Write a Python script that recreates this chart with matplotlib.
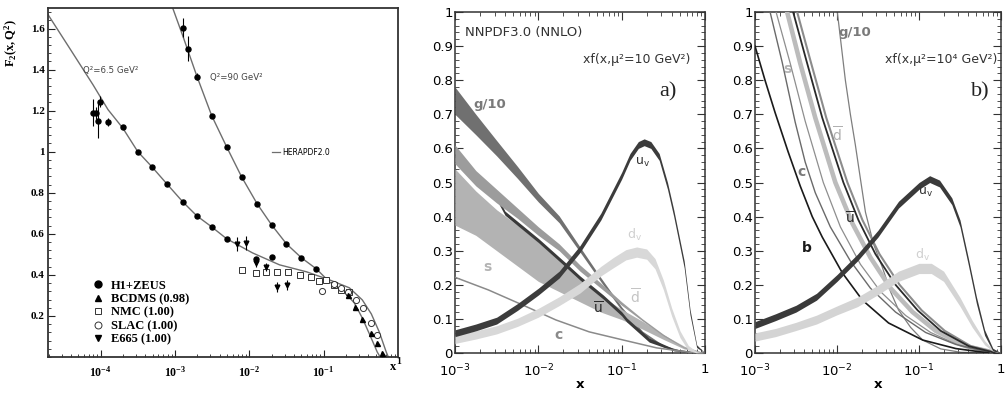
import numpy as np
import matplotlib
matplotlib.use('Agg')
import matplotlib.pyplot as plt
from matplotlib.ticker import MultipleLocator, LogLocator, NullFormatter
from matplotlib.lines import Line2D

plt.rcParams['font.family'] = ['DejaVu Sans']
plt.rcParams['mathtext.fontset'] = 'custom'
plt.rcParams['mathtext.rm'] = 'Liberation Serif:bold'
plt.rcParams['mathtext.bf'] = 'Liberation Serif:bold'
plt.rcParams['mathtext.it'] = 'Liberation Serif:bold:italic'
plt.rcParams['mathtext.sf'] = 'DejaVu Sans'

# ---------------- Panel 1 : F2(x,Q2) ----------------
q65_curve_logx = [-4.707, -4.4, -4.1, -3.9, -3.701, -3.499, -3.311, -3.110, -2.895, -2.707, -2.506,
                  -2.305, -1.956, -1.594, -1.231, -0.923, -0.654, -0.480, -0.359, -0.252, -0.158, -0.13]
q65_curve_f2 = [1.668, 1.495, 1.325, 1.205, 1.115, 1.0, 0.927, 0.844, 0.756, 0.688, 0.634,
                0.576, 0.507, 0.449, 0.415, 0.376, 0.337, 0.278, 0.21, 0.122, 0.024, 0.0]
q90_curve_logx = [-3.030, -2.895, -2.707, -2.506, -2.305, -2.104, -1.894, -1.701, -1.500, -1.298,
                  -1.097, -0.923, -0.721, -0.587, -0.480, -0.372, -0.279, -0.24]
q90_curve_f2 = [1.70, 1.565, 1.37, 1.176, 1.024, 0.878, 0.746, 0.644, 0.551, 0.483,
                0.429, 0.366, 0.317, 0.263, 0.19, 0.102, 0.024, 0.0]

h1_logx = [-4.103, -4.063, -4.036, -4.009, -3.902, -3.701, -3.499, -3.311, -3.110, -2.895, -2.707,
           -2.506, -2.305, -1.907, -1.701,
           -2.895, -2.828, -2.707, -2.506, -2.305, -2.104, -1.894, -1.701, -1.500, -1.298, -1.097]
h1_f2 = [1.19, 1.19, 1.151, 1.244, 1.146, 1.122, 1.0, 0.927, 0.844, 0.756, 0.688,
         0.634, 0.576, 0.478, 0.488,
         1.605, 1.502, 1.366, 1.176, 1.024, 0.878, 0.746, 0.644, 0.551, 0.483, 0.429]
h1_err = [0.065, 0.03, 0.085, 0.025, 0.02, 0.01, 0.01, 0.01, 0.01, 0.01, 0.01,
          0.01, 0.01, 0.01, 0.01,
          0.045, 0.06, 0.015, 0.01, 0.01, 0.01, 0.01, 0.01, 0.01, 0.01, 0.01]
e665_logx = [-2.171, -2.050, -1.916, -1.773, -1.634, -1.487]
e665_f2 = [0.551, 0.556, 0.46, 0.44, 0.34, 0.351]
e665_err = [0.035, 0.035, 0.02, 0.02, 0.025, 0.025]
nmc_logx = [-2.104, -1.907, -1.773, -1.621, -1.473, -1.312, -1.164, -1.057, -0.963, -0.856, -0.762, -0.654]
nmc_f2 = [0.424, 0.41, 0.415, 0.415, 0.415, 0.40, 0.39, 0.371, 0.376, 0.351, 0.327, 0.317]
slac_logx = [-1.017, -0.856, -0.762, -0.668, -0.560, -0.466, -0.359, -0.279]
slac_f2 = [0.322, 0.356, 0.337, 0.317, 0.278, 0.239, 0.166, 0.107]
bcdms_logx = [-0.668, -0.574, -0.480, -0.359, -0.279, -0.212]
bcdms_f2 = [0.302, 0.244, 0.185, 0.117, 0.068, 0.02]

p1_yticks = [0.2, 0.4, 0.6, 0.8, 1.0, 1.2, 1.4, 1.6]
p1_yticklabels = ['0.2', '0.4', '0.6', '0.8', '1', '1.2', '1.4', '1.6']
p1_xticks = [1e-4, 1e-3, 1e-2, 1e-1]
p1_xticklabels = [r'$\mathrm{10^{-4}}$', r'$\mathrm{10^{-3}}$', r'$\mathrm{10^{-2}}$', r'$\mathrm{10^{-1}}$']
legend_labels = ['H1+ZEUS', 'BCDMS (0.98)', 'NMC (1.00)', 'SLAC (1.00)', 'E665 (1.00)']

# ---------------- Panel 2 : mu^2 = 10 GeV^2 ----------------
p2_grid = [-3, -2.75, -2.5, -2.25, -2, -1.75, -1.5, -1.25, -1, -0.75, -0.5, -0.25, 0]
p2_g10_lo = [0.70, 0.64, 0.578, 0.512, 0.443, 0.382, 0.296, 0.209, 0.125, 0.056, 0.018, 0.002, 0]
p2_g10_hi = [0.78, 0.70, 0.623, 0.547, 0.468, 0.402, 0.311, 0.221, 0.135, 0.064, 0.023, 0.005, 0]
p2_dbar_lo = [0.555, 0.49, 0.44, 0.395, 0.345, 0.30, 0.24, 0.19, 0.14, 0.094, 0.05, 0.015, 0]
p2_dbar_hi = [0.61, 0.535, 0.48, 0.425, 0.37, 0.32, 0.258, 0.205, 0.15, 0.10, 0.055, 0.017, 0]
p2_s_lo = [0.375, 0.345, 0.30, 0.255, 0.21, 0.18, 0.15, 0.12, 0.098, 0.07, 0.04, 0.012, 0]
p2_s_hi = [0.54, 0.475, 0.42, 0.375, 0.325, 0.272, 0.218, 0.168, 0.128, 0.093, 0.054, 0.02, 0]
p2_ubar_logx = [-3, -2.75, -2.5, -2.4, -2.0, -1.67, -1.5, -1.22, -1.0, -0.94, -0.67, -0.37, 0]
p2_ubar_mid = [0.58, 0.51, 0.455, 0.41, 0.33, 0.258, 0.22, 0.164, 0.115, 0.097, 0.038, 0.009, 0]
p2_ubar_hw = [0.006] * 11 + [0.003, 0]
p2_c_logx = [-3, -2.6, -2.19, -1.79, -1.39, -0.98, -0.58, -0.18, 0]
p2_c = [0.222, 0.185, 0.141, 0.097, 0.062, 0.038, 0.015, 0.002, 0]
p2_uv_logx = [-3, -2.75, -2.5, -2.25, -2, -1.75, -1.5, -1.25, -1, -0.9, -0.8, -0.73, -0.65, -0.55,
              -0.45, -0.375, -0.25, -0.18, -0.1, 0]
p2_uv_mid = [0.058, 0.075, 0.095, 0.135, 0.18, 0.23, 0.305, 0.40, 0.52, 0.575, 0.61, 0.618, 0.61, 0.575,
             0.49, 0.41, 0.26, 0.12, 0.02, 0]
p2_uv_hw = [0.01] * 17 + [0.008, 0.004, 0]
p2_dv_logx = [-3, -2.75, -2.5, -2.25, -2, -1.75, -1.5, -1.25, -1.1, -0.95, -0.82, -0.7, -0.6, -0.5,
              -0.4, -0.3, -0.2, -0.1, 0]
p2_dv_mid = [0.04, 0.053, 0.068, 0.09, 0.118, 0.152, 0.19, 0.24, 0.265, 0.288, 0.296, 0.29, 0.262, 0.20,
             0.12, 0.055, 0.015, 0.002, 0]
p2_dv_hw = [0.012, 0.012, 0.012, 0.012, 0.013, 0.013, 0.014, 0.014, 0.015, 0.015, 0.015, 0.015, 0.015,
            0.014, 0.012, 0.01, 0.007, 0.002, 0]

# ---------------- Panel 3 : mu^2 = 10^4 GeV^2 ----------------
p3_b_logx = [-3.0, -2.878, -2.755, -2.596, -2.449, -2.302, -2.18, -1.935, -1.69, -1.371, -0.955, -0.551, -0.147]
p3_b = [0.90, 0.80, 0.705, 0.59, 0.49, 0.40, 0.34, 0.235, 0.155, 0.088, 0.038, 0.013, 0.0]
p3_c_logx = [-2.816, -2.669, -2.51, -2.388, -2.265, -2.082, -1.837, -1.592, -1.286, -0.918, -0.551, -0.184, 0]
p3_c = [1.0, 0.853, 0.677, 0.56, 0.47, 0.37, 0.27, 0.19, 0.12, 0.06, 0.025, 0.005, 0]
p3_grey_logx = [-2.743, -2.571, -2.388, -2.167, -1.959, -1.714, -1.469, -1.163, -0.857, -0.49, -0.123]
p3_grey = [1.0, 0.85, 0.68, 0.5, 0.37, 0.26, 0.18, 0.11, 0.06, 0.02, 0.0]
p3_s_logx = [-2.608, -2.449, -2.265, -2.02, -1.812, -1.592, -1.347, -1.078, -0.796, -0.429, -0.061]
p3_s = [1.0, 0.85, 0.69, 0.5, 0.38, 0.28, 0.19, 0.12, 0.065, 0.02, 0.0]
p3_ubar_logx = [-2.535, -2.376, -2.18, -1.922, -1.739, -1.531, -1.286, -1.016, -0.735, -0.392, -0.061]
p3_ubar = [1.0, 0.86, 0.69, 0.5, 0.39, 0.29, 0.2, 0.125, 0.065, 0.02, 0.0]
p3_dbar_logx = [-2.486, -2.327, -2.131, -1.873, -1.69, -1.482, -1.237, -0.967, -0.686, -0.367, -0.037]
p3_dbar = [1.0, 0.86, 0.69, 0.5, 0.39, 0.29, 0.2, 0.125, 0.065, 0.02, 0.0]
p3_g10_logx = [-1.996, -1.947, -1.898, -1.837, -1.776, -1.714, -1.653, -1.555, -1.445, -1.347, -1.249,
               -1.102, -0.955, -0.735, -0.49, 0]
p3_g10 = [1.0, 0.9, 0.8, 0.7, 0.61, 0.51, 0.413, 0.32, 0.25, 0.18, 0.126, 0.075, 0.038, 0.012, 0.002, 0]
p3_uv_logx = [-3, -2.75, -2.5, -2.25, -2, -1.75, -1.5, -1.25, -1, -0.87, -0.75, -0.6, -0.5, -0.4, -0.3,
              -0.2, -0.1, 0]
p3_uv_mid = [0.082, 0.105, 0.13, 0.165, 0.22, 0.28, 0.35, 0.435, 0.49, 0.51, 0.497, 0.445, 0.38, 0.27,
             0.155, 0.06, 0.01, 0]
p3_uv_hw = [0.01] * 15 + [0.008, 0.004, 0]
p3_dv_logx = [-3, -2.75, -2.5, -2.25, -2, -1.75, -1.5, -1.25, -1, -0.85, -0.7, -0.5, -0.35, -0.2, -0.1, 0]
p3_dv_mid = [0.047, 0.06, 0.078, 0.098, 0.125, 0.15, 0.185, 0.225, 0.248, 0.248, 0.225, 0.15, 0.085,
             0.03, 0.008, 0]
p3_dv_hw = [0.012, 0.012, 0.012, 0.013, 0.013, 0.014, 0.014, 0.015, 0.015, 0.015, 0.015, 0.013, 0.01,
            0.006, 0.003, 0]

pdf_yticks = [0, 0.1, 0.2, 0.3, 0.4, 0.5, 0.6, 0.7, 0.8, 0.9, 1.0]
pdf_yticklabels = ['0', '0.1', '0.2', '0.3', '0.4', '0.5', '0.6', '0.7', '0.8', '0.9', '1']
pdf_xticks = [1e-3, 1e-2, 1e-1, 1]
pdf_xticklabels = [r'$\mathsf{10^{-3}}$', r'$\mathsf{10^{-2}}$', r'$\mathsf{10^{-1}}$', r'$\mathsf{1}$']


def X(lx):
    return 10 ** np.asarray(lx, dtype=float)


fig = plt.figure(figsize=(10.05, 3.93), dpi=100)
W, H = 1005.0, 393.0
ax1 = fig.add_axes([48 / W, 1 - 357 / H, 350 / W, 349 / H])
ax2 = fig.add_axes([455 / W, 1 - 353 / H, 250 / W, 341 / H])
ax3 = fig.add_axes([755 / W, 1 - 353 / H, 246 / W, 341 / H])

serif_b = dict(family='Liberation Serif', weight='bold')

# ---- panel 1 ----
ax1.set_xscale('log')
ax1.set_xlim(10 ** -4.707, 1.0)
ax1.set_ylim(0, 1.7)
curve_col = '#6e6e6e'
ax1.plot(X(q65_curve_logx), q65_curve_f2, color=curve_col, lw=1.0, zorder=2)
ax1.plot(X(q90_curve_logx), q90_curve_f2, color=curve_col, lw=1.0, zorder=2)
ax1.errorbar(X(h1_logx), h1_f2, yerr=h1_err, fmt='o', ms=3.6, color='black', elinewidth=0.8,
             capsize=0, zorder=4)
ax1.errorbar(X(e665_logx), e665_f2, yerr=e665_err, fmt='v', ms=3.4, color='black', elinewidth=0.8,
             capsize=0, zorder=4)
ax1.plot(X(nmc_logx), nmc_f2, 's', ms=4.2, mfc='white', mec='#333333', mew=0.7, zorder=3)
ax1.plot(X(slac_logx), slac_f2, 'o', ms=4.4, mfc='white', mec='#333333', mew=0.7, zorder=3)
ax1.plot(X(bcdms_logx), bcdms_f2, '^', ms=3.6, color='black', zorder=4)

ax1.set_xticks(p1_xticks)
ax1.set_xticklabels(p1_xticklabels, fontsize=8.5)
ax1.xaxis.set_minor_locator(LogLocator(base=10, subs=np.arange(2, 10) * 1.0, numticks=30))
ax1.xaxis.set_minor_formatter(NullFormatter())
ax1.set_yticks(p1_yticks)
ax1.set_yticklabels(p1_yticklabels, fontsize=8, **serif_b)
ax1.yaxis.set_minor_locator(MultipleLocator(0.04))
ax1.tick_params(which='both', direction='in', top=False, right=False, color='#222222')
ax1.tick_params(axis='x', which='major', length=5, width=0.8, pad=6)
ax1.tick_params(axis='y', which='major', length=5, width=0.8, pad=2.5)
ax1.tick_params(which='minor', length=2.5, width=0.6)
for sp in ax1.spines.values():
    sp.set_linewidth(1.3)
    sp.set_color('#333333')
ax1.text(-0.103, 0.90, r'$\mathrm{F_2(x,Q^2)}$', transform=ax1.transAxes, rotation=90,
         ha='center', va='center', fontsize=9)
ax1.text(0.986, -0.028, 'x', transform=ax1.transAxes, ha='center', va='center', fontsize=9, **serif_b)
ax1.text(1.002, -0.012, '1', transform=ax1.transAxes, ha='center', va='center', fontsize=7, **serif_b)
ax1.text(0.10, 0.822, 'Q²=6.5 GeV²', transform=ax1.transAxes, ha='left', va='center', fontsize=6.2,
         color='#444444')
ax1.text(0.463, 0.80, 'Q²=90 GeV²', transform=ax1.transAxes, ha='left', va='center', fontsize=6.2,
         color='#444444')

handles = [Line2D([], [], ls='none', marker='o', ms=5, color='black'),
           Line2D([], [], ls='none', marker='^', ms=5, color='black'),
           Line2D([], [], ls='none', marker='s', ms=5, mfc='white', mec='#333333', mew=0.7),
           Line2D([], [], ls='none', marker='o', ms=5, mfc='white', mec='#333333', mew=0.7),
           Line2D([], [], ls='none', marker='v', ms=5, color='black')]
leg = ax1.legend(handles, legend_labels, loc='upper left', bbox_to_anchor=(0.125, 0.222), frameon=False,
                 prop=dict(family='Liberation Serif', weight='bold', size=9), handlelength=1.0,
                 handletextpad=0.5, labelspacing=0.12, borderpad=0, borderaxespad=0)
ax1.add_artist(leg)
leg2 = ax1.legend([Line2D([], [], color=curve_col, lw=0.9)], ['HERAPDF2.0'], loc='center left',
                  bbox_to_anchor=(0.64, 0.587), frameon=False, prop=dict(size=5.5),
                  handlelength=1.1, handletextpad=0.3, borderpad=0, borderaxespad=0)


# ---- panels 2 and 3 ----
def pdf_axes(ax):
    ax.set_xscale('log')
    ax.set_xlim(1e-3, 1)
    ax.set_ylim(0, 1)
    ax.set_xticks(pdf_xticks)
    ax.set_xticklabels(pdf_xticklabels, fontsize=9.5)
    ax.xaxis.set_minor_locator(LogLocator(base=10, subs=np.arange(2, 10) * 1.0, numticks=30))
    ax.xaxis.set_minor_formatter(NullFormatter())
    ax.set_yticks(pdf_yticks)
    ax.set_yticklabels(pdf_yticklabels, fontsize=9.5)
    ax.yaxis.set_minor_locator(MultipleLocator(0.02))
    ax.tick_params(which='both', direction='in', top=True, right=True, color='#333333')
    ax.tick_params(which='major', length=6, width=0.8)
    ax.tick_params(which='minor', length=3, width=0.6)
    ax.tick_params(axis='x', which='major', pad=7)
    ax.tick_params(axis='y', which='major', pad=1.5)
    for sp in ax.spines.values():
        sp.set_linewidth(1.1)
        sp.set_color('#333333')
    ax.text(0.5, -0.093, 'x', transform=ax.transAxes, ha='center', va='center', fontsize=9.5,
            fontweight='bold')


def band(ax, lx, mid, hw, color, z):
    mid = np.asarray(mid)
    hw = np.asarray(hw)
    ax.fill_between(X(lx), mid - hw, mid + hw, color=color, lw=0, zorder=z)


pdf_axes(ax2)
ax2.fill_between(X(p2_grid), p2_g10_lo, p2_g10_hi, color='#707070', lw=0, zorder=2)
ax2.fill_between(X(p2_grid), p2_s_lo, p2_s_hi, color='#b3b3b3', lw=0, zorder=3)
band(ax2, p2_ubar_logx, p2_ubar_mid, p2_ubar_hw, '#3a3a3a', 4)
ax2.fill_between(X(p2_grid), p2_dbar_lo, p2_dbar_hi, color='#9c9c9c', lw=0, zorder=5)
ax2.plot(X(p2_c_logx), p2_c, color='#8a8a8a', lw=1.1, zorder=6)
band(ax2, p2_dv_logx, p2_dv_mid, p2_dv_hw, '#d8d8d8', 7)
band(ax2, p2_uv_logx, p2_uv_mid, p2_uv_hw, '#3c3c3c', 8)

t = dict(transform=ax2.transAxes, ha='center', va='center', zorder=10)
ax2.text(0.04, 0.941, 'NNPDF3.0 (NNLO)', transform=ax2.transAxes, ha='left', va='center', fontsize=9.5,
         color='#333333')
ax2.text(0.94, 0.862, 'xf(x,μ²=10 GeV²)', transform=ax2.transAxes, ha='right', va='center', fontsize=9,
         color='#333333')
ax2.text(0.885, 0.765, 'a)', transform=ax2.transAxes, ha='right', va='center', fontsize=16,
         family='Liberation Serif', color='#222222')
ax2.text(0.072, 0.73, 'g/10', transform=ax2.transAxes, ha='left', va='center', fontsize=9.5,
         color='#7a7a7a', fontweight='bold')
ax2.text(0.748, 0.56, r'$\mathsf{u_v}$', fontsize=9, color='#333333', **t)
ax2.text(0.716, 0.346, r'$\mathsf{d_v}$', fontsize=9, color='#d0d0d0', **t)
ax2.text(0.72, 0.164, r'$\overline{\mathsf{d}}$', fontsize=10, color='#c4c4c4', **t)
ax2.text(0.572, 0.132, r'$\overline{\mathsf{u}}$', fontsize=10, color='#2a2a2a', **t)
ax2.text(0.412, 0.053, 'c', fontsize=10, color='#8a8a8a', fontweight='bold', **t)
ax2.text(0.128, 0.252, 's', fontsize=10, color='#b3b3b3', fontweight='bold', **t)

pdf_axes(ax3)
ax3.text(0.13, 0.833, 's', transform=ax3.transAxes, ha='center', va='center', fontsize=10,
         color='#b3b3b3', fontweight='bold', zorder=1)
ax3.plot(X(p3_g10_logx), p3_g10, color='#7e7e7e', lw=0.9, zorder=2)
ax3.plot(X(p3_s_logx), p3_s, color='#bcbcbc', lw=3.3, zorder=3)
ax3.plot(X(p3_grey_logx), p3_grey, color='#8e8e8e', lw=0.9, zorder=3)
ax3.plot(X(p3_c_logx), p3_c, color='#6a6a6a', lw=1.0, zorder=4)
ax3.plot(X(p3_dbar_logx), p3_dbar, color='#8c8c8c', lw=1.5, zorder=4)
ax3.plot(X(p3_ubar_logx), p3_ubar, color='#2a2a2a', lw=1.3, zorder=5)
ax3.plot(X(p3_b_logx), p3_b, color='#1a1a1a', lw=1.2, zorder=5)
band(ax3, p3_dv_logx, p3_dv_mid, p3_dv_hw, '#d4d4d4', 6)
band(ax3, p3_uv_logx, p3_uv_mid, p3_uv_hw, '#3a3a3a', 7)

t3 = dict(transform=ax3.transAxes, ha='center', va='center', zorder=10)
ax3.text(0.984, 0.862, 'xf(x,μ²=10⁴ GeV²)', transform=ax3.transAxes, ha='right', va='center',
         fontsize=9, color='#333333')
ax3.text(0.955, 0.765, 'b)', transform=ax3.transAxes, ha='right', va='center', fontsize=16,
         family='Liberation Serif', color='#222222')
ax3.text(0.337, 0.941, 'g/10', transform=ax3.transAxes, ha='left', va='center', fontsize=9.5,
         color='#7a7a7a', fontweight='bold')
ax3.text(0.333, 0.639, r'$\overline{\mathsf{d}}$', fontsize=10, color='#b0b0b0', **t3)
ax3.text(0.191, 0.531, 'c', fontsize=10, color='#7a7a7a', fontweight='bold', **t3)
ax3.text(0.386, 0.396, r'$\overline{\mathsf{u}}$', fontsize=10, color='#2a2a2a', **t3)
ax3.text(0.691, 0.472, r'$\mathsf{u_v}$', fontsize=9, color='#333333', **t3)
ax3.text(0.679, 0.287, r'$\mathsf{d_v}$', fontsize=9, color='#d0d0d0', **t3)
ax3.text(0.211, 0.308, 'b', fontsize=10, color='#1a1a1a', fontweight='bold', **t3)

fig.savefig('out.png', dpi=100)
